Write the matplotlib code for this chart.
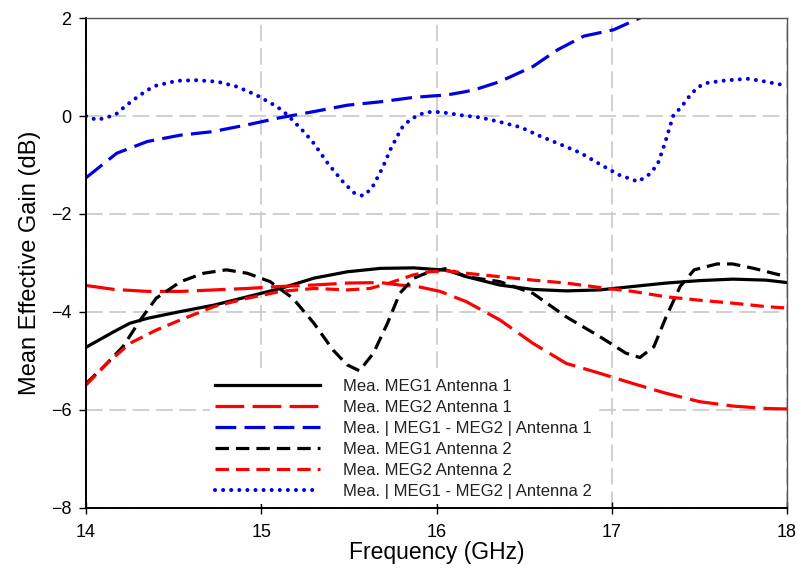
import matplotlib
matplotlib.use("Agg")
import matplotlib.pyplot as plt

plt.rcParams['font.family'] = ['Liberation Sans', 'DejaVu Sans']

# ---- data ----
x_b_dash = [14.0, 14.175, 14.35, 14.54, 14.72, 14.92, 15.1, 15.3, 15.49, 15.68, 15.87,
            15.98, 16.06, 16.17, 16.23, 16.36, 16.55, 16.69, 16.84, 17.01, 17.16, 17.2]
y_b_dash = [-1.26, -0.76, -0.52, -0.39, -0.32, -0.18, -0.04, 0.09, 0.22, 0.29, 0.38,
            0.41, 0.43, 0.50, 0.55, 0.70, 1.01, 1.35, 1.63, 1.76, 2.0, 2.08]

x_b_dot = [14.0, 14.06, 14.12, 14.175, 14.23, 14.29, 14.35, 14.40, 14.52, 14.63, 14.75,
           14.86, 14.97, 15.09, 15.15, 15.25, 15.30, 15.38, 15.47, 15.53, 15.58, 15.63,
           15.69, 15.74, 15.80, 15.85, 15.91, 15.96, 16.02, 16.08, 16.13, 16.25, 16.36,
           16.48, 16.59, 16.70, 16.82, 16.93, 17.04, 17.15, 17.21, 17.26, 17.30, 17.35,
           17.40, 17.44, 17.49, 17.55, 17.66, 17.78, 17.88, 17.95, 18.0]
y_b_dot = [0.0, -0.08, -0.03, 0.05, 0.22, 0.38, 0.53, 0.62, 0.72, 0.73, 0.70,
           0.60, 0.43, 0.19, 0.02, -0.35, -0.56, -0.97, -1.36, -1.57, -1.63, -1.48,
           -1.07, -0.66, -0.25, -0.07, 0.04, 0.08, 0.08, 0.05, 0.02, -0.03, -0.12,
           -0.23, -0.41, -0.57, -0.75, -0.98, -1.20, -1.34, -1.20, -1.0, -0.59, 0.0,
           0.20, 0.39, 0.59, 0.68, 0.73, 0.76, 0.70, 0.65, 0.63]

x_k_solid = [14.0, 14.16, 14.25, 14.35, 14.54, 14.73, 14.92, 15.11, 15.30, 15.49, 15.68,
             15.87, 16.06, 16.17, 16.36, 16.55, 16.74, 16.93, 17.12, 17.31, 17.50, 17.69,
             17.88, 18.0]
y_k_solid = [-4.72, -4.40, -4.23, -4.13, -3.99, -3.86, -3.69, -3.52, -3.31, -3.18, -3.11,
             -3.10, -3.15, -3.28, -3.45, -3.54, -3.57, -3.55, -3.48, -3.41, -3.36, -3.33,
             -3.35, -3.40]

x_r_long = [14.0, 14.16, 14.35, 14.54, 14.73, 14.92, 15.11, 15.30, 15.49, 15.68, 15.79,
            15.89, 16.02, 16.17, 16.36, 16.55, 16.74, 16.93, 17.12, 17.31, 17.50, 17.69,
            17.88, 18.0]
y_r_long = [-3.46, -3.54, -3.58, -3.58, -3.55, -3.52, -3.48, -3.45, -3.41, -3.40, -3.45,
            -3.48, -3.58, -3.79, -4.16, -4.64, -5.05, -5.25, -5.46, -5.66, -5.83, -5.92,
            -5.97, -5.98]

x_k_dash = [14.0, 14.10, 14.21, 14.31, 14.40, 14.54, 14.67, 14.80, 14.92, 15.05, 15.18,
            15.30, 15.41, 15.49, 15.56, 15.64, 15.72, 15.79, 15.87, 15.96, 16.06, 16.17,
            16.36, 16.55, 16.74, 16.93, 17.08, 17.16, 17.24, 17.31, 17.39, 17.47, 17.60,
            17.69, 17.81, 17.92, 18.0]
y_k_dash = [-5.46, -5.12, -4.71, -4.16, -3.72, -3.38, -3.21, -3.14, -3.21, -3.38, -3.72,
            -4.23, -4.78, -5.08, -5.20, -4.84, -4.23, -3.62, -3.31, -3.18, -3.11, -3.28,
            -3.38, -3.62, -4.10, -4.50, -4.84, -4.93, -4.71, -4.10, -3.48, -3.14, -3.02,
            -3.02, -3.11, -3.21, -3.28]

x_r_short = [14.0, 14.12, 14.25, 14.40, 14.54, 14.73, 14.92, 15.11, 15.30, 15.49, 15.62,
             15.73, 15.87, 15.96, 16.06, 16.17, 16.36, 16.55, 16.74, 16.93, 17.12, 17.31,
             17.50, 17.69, 17.88, 18.0]
y_r_short = [-5.49, -5.05, -4.64, -4.37, -4.16, -3.89, -3.72, -3.58, -3.52, -3.55, -3.52,
             -3.41, -3.24, -3.18, -3.16, -3.21, -3.28, -3.35, -3.41, -3.50, -3.58, -3.69,
             -3.76, -3.82, -3.89, -3.92]

labels = ["Mea. MEG1 Antenna 1",
          "Mea. MEG2 Antenna 1",
          "Mea. | MEG1 - MEG2 | Antenna 1",
          "Mea. MEG1 Antenna 2",
          "Mea. MEG2 Antenna 2",
          "Mea. | MEG1 - MEG2 | Antenna 2"]
x_ticks = [14, 15, 16, 17, 18]
y_ticks = [-8, -6, -4, -2, 0, 2]

# ---- figure ----
fig = plt.figure(figsize=(7.97, 5.72), dpi=100)
ax = fig.add_axes([0.108, 0.112, 0.8795, 0.8565])

lw = 2.3
ax.plot(x_k_solid, y_k_solid, color='black', lw=lw, label=labels[0])
ax.plot(x_r_long, y_r_long, color='red', lw=lw, dashes=(9, 2.6), label=labels[1])
ax.plot(x_b_dash, y_b_dash, color='#0000e0', lw=lw, dashes=(6.5, 2.6), label=labels[2])
ax.plot(x_k_dash, y_k_dash, color='black', lw=lw, dashes=(4.2, 2.2), label=labels[3])
ax.plot(x_r_short, y_r_short, color='red', lw=lw, dashes=(4.2, 2.2), label=labels[4])
ax.plot(x_b_dot, y_b_dot, color='#0000e0', lw=2.9, dashes=(0.01, 2.0),
        dash_capstyle='round', label=labels[5])

ax.set_xlim(14, 18)
ax.set_ylim(-8, 2)
ax.set_xticks(x_ticks)
ax.set_yticks(y_ticks)
ax.set_yticklabels(['\u22128', '\u22126', '\u22124', '\u22122', '0', '2'])

ax.grid(True, color='#c8c8c8', lw=1.2, dashes=(10, 4))
ax.set_axisbelow(True)

for s in ['left', 'bottom']:
    ax.spines[s].set_color('black')
    ax.spines[s].set_linewidth(1.4)
for s in ['top', 'right']:
    ax.spines[s].set_color('#555555')
    ax.spines[s].set_linewidth(1.0)

ax.tick_params(axis='x', direction='inout', length=8, width=1, labelsize=13,
               pad=7.5, colors='black')
ax.tick_params(axis='y', direction='out', length=5, width=1, labelsize=13,
               pad=5.5, colors='black')
ax.set_xlabel('Frequency (GHz)', fontsize=16.5, labelpad=0)
ax.set_ylabel('Mean Effective Gain (dB)', fontsize=17, labelpad=7)

leg = ax.legend(loc='lower left', bbox_to_anchor=(0.177, 0.008), frameon=True,
                fontsize=12, handlelength=6.3, handletextpad=1.35,
                labelspacing=0.36, borderpad=0.3, borderaxespad=0.0)
leg.get_frame().set_edgecolor('none')
leg.get_frame().set_facecolor('white')
leg.get_frame().set_alpha(1.0)
for t in leg.get_texts():
    t.set_color('#222222')

fig.savefig('out.png', dpi=100)
